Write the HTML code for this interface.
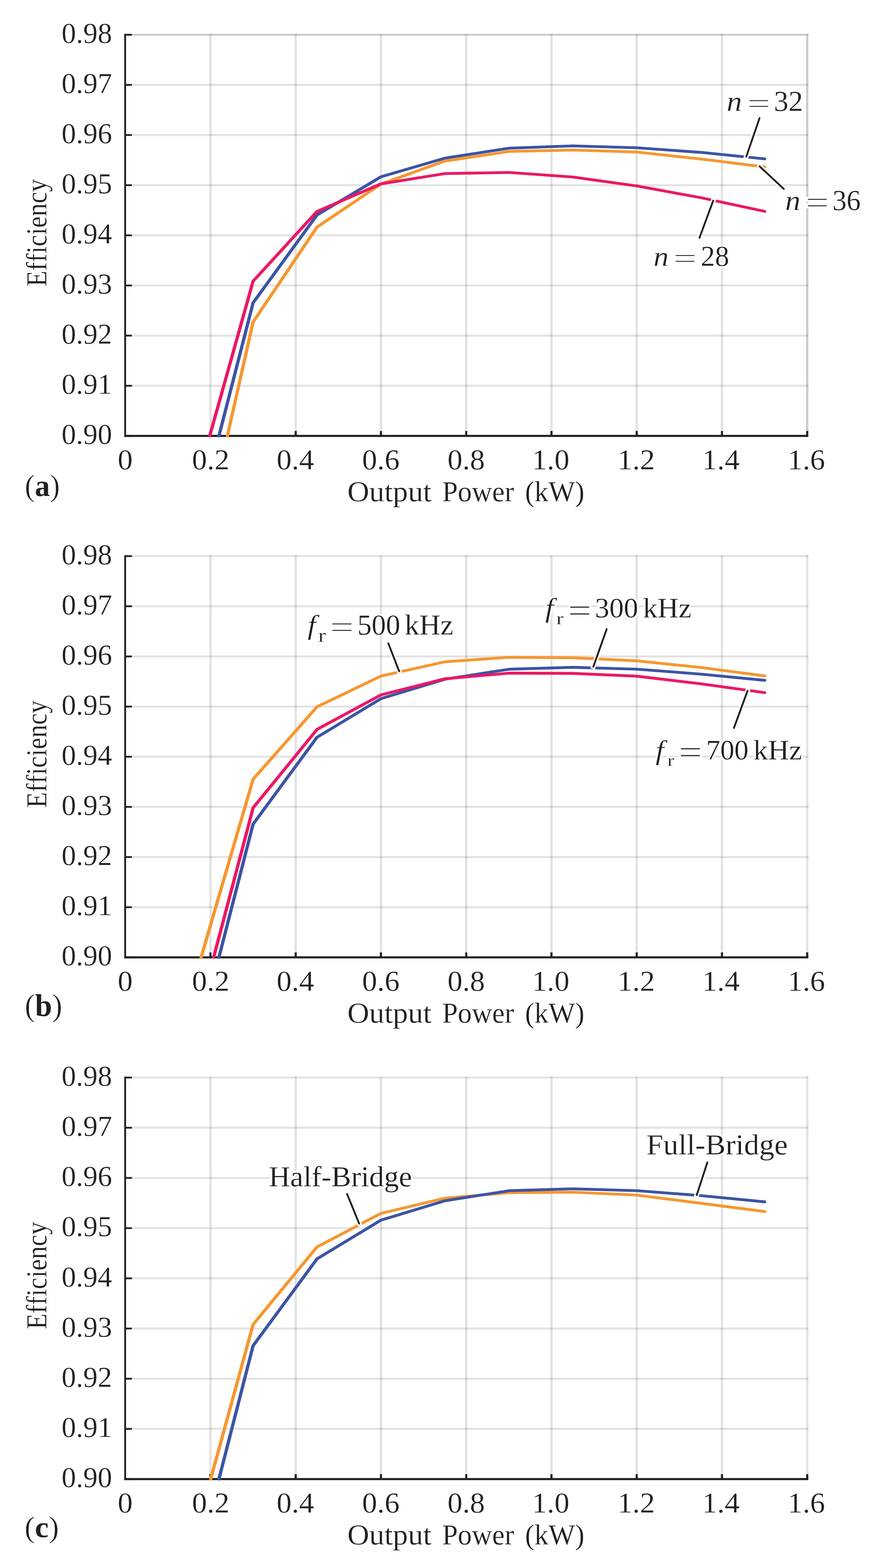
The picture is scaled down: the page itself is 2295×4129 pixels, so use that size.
<!DOCTYPE html>
<html><head><meta charset="utf-8"><title>Efficiency vs Output Power</title><style>html,body{margin:0;padding:0;background:#fff;width:2295px;height:4129px;overflow:hidden}</style></head><body>
<svg width="2295" height="4129" viewBox="0 0 2295 4129" style="display:block;font-family:'Liberation Serif',serif;font-kerning:none;font-variant-ligatures:none" fill="#231f20">
<rect width="2295" height="4129" fill="#fff"/>
<g stroke="#000" stroke-opacity="0.115" fill="none">
<line x1="347" y1="1015.85" x2="2127.54" y2="1015.85" stroke-width="5.2"/>
<line x1="347" y1="883.80" x2="2127.54" y2="883.80" stroke-width="5.2"/>
<line x1="347" y1="751.75" x2="2127.54" y2="751.75" stroke-width="5.2"/>
<line x1="347" y1="619.70" x2="2127.54" y2="619.70" stroke-width="5.2"/>
<line x1="347" y1="487.65" x2="2127.54" y2="487.65" stroke-width="5.2"/>
<line x1="347" y1="355.60" x2="2127.54" y2="355.60" stroke-width="5.2"/>
<line x1="347" y1="223.55" x2="2127.54" y2="223.55" stroke-width="5.2"/>
<line x1="347" y1="91.50" x2="2127.54" y2="91.50" stroke-width="5.2"/>
<line x1="553.88" y1="88.90" x2="553.88" y2="1134.90" stroke-width="6"/>
<line x1="778.26" y1="88.90" x2="778.26" y2="1134.90" stroke-width="6"/>
<line x1="1002.64" y1="88.90" x2="1002.64" y2="1134.90" stroke-width="6"/>
<line x1="1227.02" y1="88.90" x2="1227.02" y2="1134.90" stroke-width="6"/>
<line x1="1451.40" y1="88.90" x2="1451.40" y2="1134.90" stroke-width="6"/>
<line x1="1675.78" y1="88.90" x2="1675.78" y2="1134.90" stroke-width="6"/>
<line x1="1900.16" y1="88.90" x2="1900.16" y2="1134.90" stroke-width="6"/>
<line x1="2124.54" y1="88.90" x2="2124.54" y2="1134.90" stroke-width="6"/>
<line x1="347" y1="91.50" x2="2127.54" y2="91.50" stroke-width="5.2" stroke-opacity="0.1"/>
<line x1="2124.54" y1="94.10" x2="2124.54" y2="1134.90" stroke-width="6" stroke-opacity="0.1"/>
</g>
<g fill="#231f20">
<rect x="327" y="89.10" width="4.8" height="1061.55"/>
<rect x="327" y="1145.15" width="1800.34" height="5.5"/>
<rect x="327" y="1145.55" width="20" height="4.7"/>
<rect x="327" y="1013.50" width="20" height="4.7"/>
<rect x="327" y="881.45" width="20" height="4.7"/>
<rect x="327" y="749.40" width="20" height="4.7"/>
<rect x="327" y="617.35" width="20" height="4.7"/>
<rect x="327" y="485.30" width="20" height="4.7"/>
<rect x="327" y="353.25" width="20" height="4.7"/>
<rect x="327" y="221.20" width="20" height="4.7"/>
<rect x="327" y="89.15" width="20" height="4.7"/>
<rect x="551.08" y="1134.90" width="5.6" height="13"/>
<rect x="775.46" y="1134.90" width="5.6" height="13"/>
<rect x="999.84" y="1134.90" width="5.6" height="13"/>
<rect x="1224.22" y="1134.90" width="5.6" height="13"/>
<rect x="1448.60" y="1134.90" width="5.6" height="13"/>
<rect x="1672.98" y="1134.90" width="5.6" height="13"/>
<rect x="1897.36" y="1134.90" width="5.6" height="13"/>
<rect x="2121.74" y="1134.90" width="5.6" height="13"/>
</g>
<g transform="scale(1.17,1)" fill="none" stroke-width="7.4" stroke-linecap="round" stroke-linejoin="round">
<polyline points="492.48,1147.90 569.29,797.50 713.12,566.10 856.96,465.60 1000.79,416.50 1144.62,390.30 1288.46,384.10 1432.29,389.10 1576.12,401.20 1719.96,418.40" stroke="#3b54a4"/>
<polyline points="511.45,1147.90 569.29,848.00 713.12,598.00 856.96,484.50 1000.79,424.00 1144.62,398.90 1288.46,395.10 1432.29,400.30 1576.12,418.70 1719.96,439.60" stroke="#f6972f"/>
<polyline points="471.79,1147.90 569.29,740.50 713.12,556.90 856.96,484.10 1000.79,457.10 1144.62,454.10 1288.46,466.10 1432.29,489.70 1576.12,520.50 1719.96,556.50" stroke="#eb1865"/>
</g>
<g stroke="#000" stroke-opacity="0.115" fill="none">
<line x1="347" y1="2388.93" x2="2127.54" y2="2388.93" stroke-width="5.2"/>
<line x1="347" y1="2256.86" x2="2127.54" y2="2256.86" stroke-width="5.2"/>
<line x1="347" y1="2124.79" x2="2127.54" y2="2124.79" stroke-width="5.2"/>
<line x1="347" y1="1992.72" x2="2127.54" y2="1992.72" stroke-width="5.2"/>
<line x1="347" y1="1860.66" x2="2127.54" y2="1860.66" stroke-width="5.2"/>
<line x1="347" y1="1728.59" x2="2127.54" y2="1728.59" stroke-width="5.2"/>
<line x1="347" y1="1596.52" x2="2127.54" y2="1596.52" stroke-width="5.2"/>
<line x1="347" y1="1464.45" x2="2127.54" y2="1464.45" stroke-width="5.2"/>
<line x1="553.88" y1="1461.85" x2="553.88" y2="2508.00" stroke-width="6"/>
<line x1="778.26" y1="1461.85" x2="778.26" y2="2508.00" stroke-width="6"/>
<line x1="1002.64" y1="1461.85" x2="1002.64" y2="2508.00" stroke-width="6"/>
<line x1="1227.02" y1="1461.85" x2="1227.02" y2="2508.00" stroke-width="6"/>
<line x1="1451.40" y1="1461.85" x2="1451.40" y2="2508.00" stroke-width="6"/>
<line x1="1675.78" y1="1461.85" x2="1675.78" y2="2508.00" stroke-width="6"/>
<line x1="1900.16" y1="1461.85" x2="1900.16" y2="2508.00" stroke-width="6"/>
<line x1="2124.54" y1="1461.85" x2="2124.54" y2="2508.00" stroke-width="6"/>
</g>
<g fill="#231f20">
<rect x="327" y="1462.05" width="4.8" height="1061.70"/>
<rect x="327" y="2518.25" width="1800.34" height="5.5"/>
<rect x="327" y="2518.65" width="20" height="4.7"/>
<rect x="327" y="2386.58" width="20" height="4.7"/>
<rect x="327" y="2254.51" width="20" height="4.7"/>
<rect x="327" y="2122.44" width="20" height="4.7"/>
<rect x="327" y="1990.37" width="20" height="4.7"/>
<rect x="327" y="1858.31" width="20" height="4.7"/>
<rect x="327" y="1726.24" width="20" height="4.7"/>
<rect x="327" y="1594.17" width="20" height="4.7"/>
<rect x="327" y="1462.10" width="20" height="4.7"/>
<rect x="551.08" y="2508.00" width="5.6" height="13"/>
<rect x="775.46" y="2508.00" width="5.6" height="13"/>
<rect x="999.84" y="2508.00" width="5.6" height="13"/>
<rect x="1224.22" y="2508.00" width="5.6" height="13"/>
<rect x="1448.60" y="2508.00" width="5.6" height="13"/>
<rect x="1672.98" y="2508.00" width="5.6" height="13"/>
<rect x="1897.36" y="2508.00" width="5.6" height="13"/>
<rect x="2121.74" y="2508.00" width="5.6" height="13"/>
</g>
<g transform="scale(1.17,1)" fill="none" stroke-width="7.4" stroke-linecap="round" stroke-linejoin="round">
<polyline points="452.39,2521.00 569.29,2052.02 713.12,1861.32 856.96,1780.36 1000.79,1742.72 1144.62,1730.83 1288.46,1732.02 1432.29,1740.21 1576.12,1757.64 1719.96,1779.83" stroke="#f6972f"/>
<polyline points="492.48,2521.00 569.29,2170.23 713.12,1941.48 856.96,1839.66 1000.79,1788.68 1144.62,1762.27 1288.46,1757.25 1432.29,1762.13 1576.12,1775.08 1719.96,1791.45" stroke="#3b54a4"/>
<polyline points="480.60,2521.00 569.29,2127.44 713.12,1920.75 856.96,1829.88 1000.79,1787.36 1144.62,1772.57 1288.46,1773.23 1432.29,1780.49 1576.12,1800.56 1719.96,1823.94" stroke="#eb1865"/>
</g>
<g stroke="#000" stroke-opacity="0.115" fill="none">
<line x1="347" y1="3762.72" x2="2127.54" y2="3762.72" stroke-width="5.2"/>
<line x1="347" y1="3630.55" x2="2127.54" y2="3630.55" stroke-width="5.2"/>
<line x1="347" y1="3498.37" x2="2127.54" y2="3498.37" stroke-width="5.2"/>
<line x1="347" y1="3366.20" x2="2127.54" y2="3366.20" stroke-width="5.2"/>
<line x1="347" y1="3234.02" x2="2127.54" y2="3234.02" stroke-width="5.2"/>
<line x1="347" y1="3101.85" x2="2127.54" y2="3101.85" stroke-width="5.2"/>
<line x1="347" y1="2969.68" x2="2127.54" y2="2969.68" stroke-width="5.2"/>
<line x1="347" y1="2837.50" x2="2127.54" y2="2837.50" stroke-width="5.2"/>
<line x1="553.88" y1="2834.90" x2="553.88" y2="3881.90" stroke-width="6"/>
<line x1="778.26" y1="2834.90" x2="778.26" y2="3881.90" stroke-width="6"/>
<line x1="1002.64" y1="2834.90" x2="1002.64" y2="3881.90" stroke-width="6"/>
<line x1="1227.02" y1="2834.90" x2="1227.02" y2="3881.90" stroke-width="6"/>
<line x1="1451.40" y1="2834.90" x2="1451.40" y2="3881.90" stroke-width="6"/>
<line x1="1675.78" y1="2834.90" x2="1675.78" y2="3881.90" stroke-width="6"/>
<line x1="1900.16" y1="2834.90" x2="1900.16" y2="3881.90" stroke-width="6"/>
<line x1="2124.54" y1="2834.90" x2="2124.54" y2="3881.90" stroke-width="6"/>
</g>
<g fill="#231f20">
<rect x="327" y="2835.10" width="4.8" height="1062.55"/>
<rect x="327" y="3892.15" width="1800.34" height="5.5"/>
<rect x="327" y="3892.55" width="20" height="4.7"/>
<rect x="327" y="3760.37" width="20" height="4.7"/>
<rect x="327" y="3628.20" width="20" height="4.7"/>
<rect x="327" y="3496.02" width="20" height="4.7"/>
<rect x="327" y="3363.85" width="20" height="4.7"/>
<rect x="327" y="3231.67" width="20" height="4.7"/>
<rect x="327" y="3099.50" width="20" height="4.7"/>
<rect x="327" y="2967.33" width="20" height="4.7"/>
<rect x="327" y="2835.15" width="20" height="4.7"/>
<rect x="551.08" y="3881.90" width="5.6" height="13"/>
<rect x="775.46" y="3881.90" width="5.6" height="13"/>
<rect x="999.84" y="3881.90" width="5.6" height="13"/>
<rect x="1224.22" y="3881.90" width="5.6" height="13"/>
<rect x="1448.60" y="3881.90" width="5.6" height="13"/>
<rect x="1672.98" y="3881.90" width="5.6" height="13"/>
<rect x="1897.36" y="3881.90" width="5.6" height="13"/>
<rect x="2121.74" y="3881.90" width="5.6" height="13"/>
</g>
<g transform="scale(1.17,1)" fill="none" stroke-width="7.4" stroke-linecap="round" stroke-linejoin="round">
<polyline points="473.93,3894.90 569.29,3487.80 713.12,3283.59 856.96,3195.17 1000.79,3155.12 1144.62,3140.71 1288.46,3139.39 1432.29,3147.05 1576.12,3168.47 1719.96,3190.28" stroke="#f6972f"/>
<polyline points="492.48,3894.90 569.29,3543.84 713.12,3314.92 856.96,3213.01 1000.79,3161.99 1144.62,3135.55 1288.46,3130.53 1432.29,3135.42 1576.12,3148.38 1719.96,3164.77" stroke="#3b54a4"/>
</g>
<g fill="none">
<line x1="2000.25" y1="307.51" x2="1962.17" y2="418.13" stroke="#fff" stroke-width="12.4"/>
<line x1="1998.95" y1="311.29" x2="1964.13" y2="412.45" stroke="#231f20" stroke-width="4.8" stroke-linecap="round"/>
<line x1="2065.66" y1="500.06" x2="1994.74" y2="433.99" stroke="#fff" stroke-width="12.4"/>
<line x1="2062.74" y1="497.34" x2="1999.13" y2="438.08" stroke="#231f20" stroke-width="4.8" stroke-linecap="round"/>
<line x1="1839.61" y1="629.88" x2="1879.23" y2="522.71" stroke="#fff" stroke-width="12.4"/>
<line x1="1840.99" y1="626.12" x2="1877.15" y2="528.34" stroke="#231f20" stroke-width="4.8" stroke-linecap="round"/>
<line x1="1020.68" y1="1690.64" x2="1052.71" y2="1773.26" stroke="#fff" stroke-width="12.4"/>
<line x1="1022.12" y1="1694.36" x2="1050.54" y2="1767.67" stroke="#231f20" stroke-width="4.8" stroke-linecap="round"/>
<line x1="1598.07" y1="1652.81" x2="1559.53" y2="1761.51" stroke="#fff" stroke-width="12.4"/>
<line x1="1596.73" y1="1656.59" x2="1561.53" y2="1755.86" stroke="#231f20" stroke-width="4.8" stroke-linecap="round"/>
<line x1="1930.31" y1="1920.68" x2="1969.52" y2="1813.50" stroke="#fff" stroke-width="12.4"/>
<line x1="1931.69" y1="1916.92" x2="1967.46" y2="1819.14" stroke="#231f20" stroke-width="4.8" stroke-linecap="round"/>
<line x1="911.84" y1="3140.25" x2="947.49" y2="3227.53" stroke="#fff" stroke-width="12.4"/>
<line x1="913.36" y1="3143.95" x2="945.22" y2="3221.97" stroke="#231f20" stroke-width="4.8" stroke-linecap="round"/>
<line x1="1862.92" y1="3057.10" x2="1831.85" y2="3152.66" stroke="#fff" stroke-width="12.4"/>
<line x1="1861.68" y1="3060.90" x2="1833.71" y2="3146.95" stroke="#231f20" stroke-width="4.8" stroke-linecap="round"/>
</g>
<text transform="translate(161.90,112.93) scale(1.0097,1)" font-size="75.38" stroke="#fff" stroke-width="0.4">0.98</text>
<text transform="translate(161.90,244.98) scale(1.0097,1)" font-size="75.38" stroke="#fff" stroke-width="0.4">0.97</text>
<text transform="translate(161.90,377.03) scale(1.0097,1)" font-size="75.38" stroke="#fff" stroke-width="0.4">0.96</text>
<text transform="translate(161.90,509.08) scale(1.0097,1)" font-size="75.38" stroke="#fff" stroke-width="0.4">0.95</text>
<text transform="translate(161.90,641.13) scale(1.0097,1)" font-size="75.38" stroke="#fff" stroke-width="0.4">0.94</text>
<text transform="translate(161.90,773.18) scale(1.0097,1)" font-size="75.38" stroke="#fff" stroke-width="0.4">0.93</text>
<text transform="translate(161.90,905.23) scale(1.0097,1)" font-size="75.38" stroke="#fff" stroke-width="0.4">0.92</text>
<text transform="translate(161.90,1037.28) scale(1.0097,1)" font-size="75.38" stroke="#fff" stroke-width="0.4">0.91</text>
<text transform="translate(161.90,1169.33) scale(1.0097,1)" font-size="75.38" stroke="#fff" stroke-width="0.4">0.90</text>
<text transform="translate(309.79,1236.13) scale(1.0439,1)" font-size="75.53" stroke="#fff" stroke-width="0.4">0</text>
<text transform="translate(505.28,1236.13) scale(1.0439,1)" font-size="75.53" stroke="#fff" stroke-width="0.4">0.2</text>
<text transform="translate(728.10,1236.13) scale(1.0439,1)" font-size="75.53" stroke="#fff" stroke-width="0.4">0.4</text>
<text transform="translate(953.04,1236.13) scale(1.0439,1)" font-size="75.53" stroke="#fff" stroke-width="0.4">0.6</text>
<text transform="translate(1177.74,1236.13) scale(1.0439,1)" font-size="75.53" stroke="#fff" stroke-width="0.4">0.8</text>
<text transform="translate(1400.16,1236.13) scale(1.0439,1)" font-size="75.53" stroke="#fff" stroke-width="0.4">1.0</text>
<text transform="translate(1625.21,1236.13) scale(1.0439,1)" font-size="75.53" stroke="#fff" stroke-width="0.4">1.2</text>
<text transform="translate(1848.03,1236.13) scale(1.0439,1)" font-size="75.53" stroke="#fff" stroke-width="0.4">1.4</text>
<text transform="translate(2072.97,1236.13) scale(1.0439,1)" font-size="75.53" stroke="#fff" stroke-width="0.4">1.6</text>
<text transform="translate(122.00,754.36) rotate(-90) scale(0.8999,1)" font-size="75.50" stroke="#fff" stroke-width="0.4">Efficiency</text>
<text transform="translate(914.33,1320.30) scale(1.0554,1)" font-size="75.50" stroke="#fff" stroke-width="0.4">Output</text>
<text transform="translate(1163.67,1320.30) scale(0.9807,1)" font-size="75.50" stroke="#fff" stroke-width="0.4">Power</text>
<text transform="translate(1381.74,1320.30) scale(0.9826,1)" font-size="75.50" stroke="#fff" stroke-width="0.4">(kW)</text>
<text transform="translate(161.90,1485.88) scale(1.0097,1)" font-size="75.38" stroke="#fff" stroke-width="0.4">0.98</text>
<text transform="translate(161.90,1617.95) scale(1.0097,1)" font-size="75.38" stroke="#fff" stroke-width="0.4">0.97</text>
<text transform="translate(161.90,1750.02) scale(1.0097,1)" font-size="75.38" stroke="#fff" stroke-width="0.4">0.96</text>
<text transform="translate(161.90,1882.09) scale(1.0097,1)" font-size="75.38" stroke="#fff" stroke-width="0.4">0.95</text>
<text transform="translate(161.90,2014.16) scale(1.0097,1)" font-size="75.38" stroke="#fff" stroke-width="0.4">0.94</text>
<text transform="translate(161.90,2146.23) scale(1.0097,1)" font-size="75.38" stroke="#fff" stroke-width="0.4">0.93</text>
<text transform="translate(161.90,2278.30) scale(1.0097,1)" font-size="75.38" stroke="#fff" stroke-width="0.4">0.92</text>
<text transform="translate(161.90,2410.36) scale(1.0097,1)" font-size="75.38" stroke="#fff" stroke-width="0.4">0.91</text>
<text transform="translate(161.90,2542.43) scale(1.0097,1)" font-size="75.38" stroke="#fff" stroke-width="0.4">0.90</text>
<text transform="translate(309.79,2609.23) scale(1.0439,1)" font-size="75.53" stroke="#fff" stroke-width="0.4">0</text>
<text transform="translate(505.28,2609.23) scale(1.0439,1)" font-size="75.53" stroke="#fff" stroke-width="0.4">0.2</text>
<text transform="translate(728.10,2609.23) scale(1.0439,1)" font-size="75.53" stroke="#fff" stroke-width="0.4">0.4</text>
<text transform="translate(953.04,2609.23) scale(1.0439,1)" font-size="75.53" stroke="#fff" stroke-width="0.4">0.6</text>
<text transform="translate(1177.74,2609.23) scale(1.0439,1)" font-size="75.53" stroke="#fff" stroke-width="0.4">0.8</text>
<text transform="translate(1400.16,2609.23) scale(1.0439,1)" font-size="75.53" stroke="#fff" stroke-width="0.4">1.0</text>
<text transform="translate(1625.21,2609.23) scale(1.0439,1)" font-size="75.53" stroke="#fff" stroke-width="0.4">1.2</text>
<text transform="translate(1848.03,2609.23) scale(1.0439,1)" font-size="75.53" stroke="#fff" stroke-width="0.4">1.4</text>
<text transform="translate(2072.97,2609.23) scale(1.0439,1)" font-size="75.53" stroke="#fff" stroke-width="0.4">1.6</text>
<text transform="translate(122.00,2127.31) rotate(-90) scale(0.8999,1)" font-size="75.50" stroke="#fff" stroke-width="0.4">Efficiency</text>
<text transform="translate(914.33,2693.40) scale(1.0554,1)" font-size="75.50" stroke="#fff" stroke-width="0.4">Output</text>
<text transform="translate(1163.67,2693.40) scale(0.9807,1)" font-size="75.50" stroke="#fff" stroke-width="0.4">Power</text>
<text transform="translate(1381.74,2693.40) scale(0.9826,1)" font-size="75.50" stroke="#fff" stroke-width="0.4">(kW)</text>
<text transform="translate(161.90,2858.93) scale(1.0097,1)" font-size="75.38" stroke="#fff" stroke-width="0.4">0.98</text>
<text transform="translate(161.90,2991.11) scale(1.0097,1)" font-size="75.38" stroke="#fff" stroke-width="0.4">0.97</text>
<text transform="translate(161.90,3123.28) scale(1.0097,1)" font-size="75.38" stroke="#fff" stroke-width="0.4">0.96</text>
<text transform="translate(161.90,3255.46) scale(1.0097,1)" font-size="75.38" stroke="#fff" stroke-width="0.4">0.95</text>
<text transform="translate(161.90,3387.63) scale(1.0097,1)" font-size="75.38" stroke="#fff" stroke-width="0.4">0.94</text>
<text transform="translate(161.90,3519.81) scale(1.0097,1)" font-size="75.38" stroke="#fff" stroke-width="0.4">0.93</text>
<text transform="translate(161.90,3651.98) scale(1.0097,1)" font-size="75.38" stroke="#fff" stroke-width="0.4">0.92</text>
<text transform="translate(161.90,3784.16) scale(1.0097,1)" font-size="75.38" stroke="#fff" stroke-width="0.4">0.91</text>
<text transform="translate(161.90,3916.33) scale(1.0097,1)" font-size="75.38" stroke="#fff" stroke-width="0.4">0.90</text>
<text transform="translate(309.79,3983.13) scale(1.0439,1)" font-size="75.53" stroke="#fff" stroke-width="0.4">0</text>
<text transform="translate(505.28,3983.13) scale(1.0439,1)" font-size="75.53" stroke="#fff" stroke-width="0.4">0.2</text>
<text transform="translate(728.10,3983.13) scale(1.0439,1)" font-size="75.53" stroke="#fff" stroke-width="0.4">0.4</text>
<text transform="translate(953.04,3983.13) scale(1.0439,1)" font-size="75.53" stroke="#fff" stroke-width="0.4">0.6</text>
<text transform="translate(1177.74,3983.13) scale(1.0439,1)" font-size="75.53" stroke="#fff" stroke-width="0.4">0.8</text>
<text transform="translate(1400.16,3983.13) scale(1.0439,1)" font-size="75.53" stroke="#fff" stroke-width="0.4">1.0</text>
<text transform="translate(1625.21,3983.13) scale(1.0439,1)" font-size="75.53" stroke="#fff" stroke-width="0.4">1.2</text>
<text transform="translate(1848.03,3983.13) scale(1.0439,1)" font-size="75.53" stroke="#fff" stroke-width="0.4">1.4</text>
<text transform="translate(2072.97,3983.13) scale(1.0439,1)" font-size="75.53" stroke="#fff" stroke-width="0.4">1.6</text>
<text transform="translate(122.00,3500.36) rotate(-90) scale(0.8999,1)" font-size="75.50" stroke="#fff" stroke-width="0.4">Efficiency</text>
<text transform="translate(914.33,4067.30) scale(1.0554,1)" font-size="75.50" stroke="#fff" stroke-width="0.4">Output</text>
<text transform="translate(1163.67,4067.30) scale(0.9807,1)" font-size="75.50" stroke="#fff" stroke-width="0.4">Power</text>
<text transform="translate(1381.74,4067.30) scale(0.9826,1)" font-size="75.50" stroke="#fff" stroke-width="0.4">(kW)</text>
<text transform="translate(65.21,1306.02) scale(0.9950,1)" font-size="79.71" stroke="#fff" stroke-width="0.8">(<tspan font-weight="bold" stroke="none">a</tspan>)</text>
<text transform="translate(65.36,2674.79) scale(0.9735,1)" font-size="82.69" stroke="#fff" stroke-width="0.8">(<tspan font-weight="bold" stroke="none">b</tspan>)</text>
<text transform="translate(64.60,4047.66) scale(1.0395,1)" font-size="78.61" stroke="#fff" stroke-width="0.8">(<tspan font-weight="bold" stroke="none">c</tspan>)</text>
<g>
<text transform="translate(1912.50,291.80) scale(1.1000,1)" font-size="73.22" font-style="italic" fill="none" stroke="#fff" stroke-width="9" aria-hidden="true">n</text>
<text transform="translate(1965.92,297.39) scale(1.4710,1)" font-size="74.80" fill="none" stroke="#fff" stroke-width="9" aria-hidden="true">=</text>
<text transform="translate(2036.73,291.75) scale(0.9968,1)" font-size="76.95" fill="none" stroke="#fff" stroke-width="9" aria-hidden="true">32</text>
<text transform="translate(2066.46,553.40) scale(1.1000,1)" font-size="73.01" font-style="italic" fill="none" stroke="#fff" stroke-width="9" aria-hidden="true">n</text>
<text transform="translate(2119.68,561.26) scale(1.3457,1)" font-size="82.40" fill="none" stroke="#fff" stroke-width="9" aria-hidden="true">=</text>
<text transform="translate(2190.95,553.46) scale(0.9765,1)" font-size="76.06" fill="none" stroke="#fff" stroke-width="9" aria-hidden="true">36</text>
<text transform="translate(1719.98,699.70) scale(1.1000,1)" font-size="72.37" font-style="italic" fill="none" stroke="#fff" stroke-width="9" aria-hidden="true">n</text>
<text transform="translate(1771.46,706.00) scale(1.4495,1)" font-size="76.80" fill="none" stroke="#fff" stroke-width="9" aria-hidden="true">=</text>
<text transform="translate(1844.52,699.75) scale(0.9754,1)" font-size="76.61" fill="none" stroke="#fff" stroke-width="9" aria-hidden="true">28</text>
<text transform="translate(809.45,1670.08) scale(1.1000,1)" font-size="72.41" font-style="italic" fill="none" stroke="#fff" stroke-width="9" aria-hidden="true">f</text>
<text transform="translate(837.32,1689.60) scale(1.2500,1)" font-size="49.66" fill="none" stroke="#fff" stroke-width="9" aria-hidden="true">r</text>
<text transform="translate(867.88,1679.39) scale(1.3826,1)" font-size="81.60" fill="none" stroke="#fff" stroke-width="9" aria-hidden="true">=</text>
<text transform="translate(940.42,1671.26) scale(0.9904,1)" font-size="76.02" fill="none" stroke="#fff" stroke-width="9" aria-hidden="true">500</text>
<text transform="translate(1064.93,1671.30) scale(1.0245,1)" font-size="75.23" fill="none" stroke="#fff" stroke-width="9" aria-hidden="true">kHz</text>
<text transform="translate(1434.95,1625.38) scale(1.1000,1)" font-size="72.41" font-style="italic" fill="none" stroke="#fff" stroke-width="9" aria-hidden="true">f</text>
<text transform="translate(1463.90,1643.90) scale(1.2500,1)" font-size="46.27" fill="none" stroke="#fff" stroke-width="9" aria-hidden="true">r</text>
<text transform="translate(1494.26,1637.17) scale(1.2480,1)" font-size="89.20" fill="none" stroke="#fff" stroke-width="9" aria-hidden="true">=</text>
<text transform="translate(1565.87,1625.67) scale(1.0130,1)" font-size="74.84" fill="none" stroke="#fff" stroke-width="9" aria-hidden="true">300</text>
<text transform="translate(1692.14,1625.70) scale(1.0350,1)" font-size="73.94" fill="none" stroke="#fff" stroke-width="9" aria-hidden="true">kHz</text>
<text transform="translate(1725.55,2000.08) scale(1.1000,1)" font-size="72.41" font-style="italic" fill="none" stroke="#fff" stroke-width="9" aria-hidden="true">f</text>
<text transform="translate(1756.20,2017.00) scale(1.2500,1)" font-size="44.14" fill="none" stroke="#fff" stroke-width="9" aria-hidden="true">r</text>
<text transform="translate(1785.46,2010.27) scale(1.2480,1)" font-size="89.20" fill="none" stroke="#fff" stroke-width="9" aria-hidden="true">=</text>
<text transform="translate(1858.28,1999.78) scale(1.0084,1)" font-size="73.95" fill="none" stroke="#fff" stroke-width="9" aria-hidden="true">700</text>
<text transform="translate(1982.74,1999.80) scale(1.0523,1)" font-size="73.07" fill="none" stroke="#fff" stroke-width="9" aria-hidden="true">kHz</text>
<text transform="translate(707.45,3124.10) scale(1.0201,1)" font-size="76.50" fill="none" stroke="#fff" stroke-width="9" aria-hidden="true">Half-Bridge</text>
<text transform="translate(1701.20,3039.90) scale(1.0425,1)" font-size="76.50" fill="none" stroke="#fff" stroke-width="9" aria-hidden="true">Full-Bridge</text>
</g>
<text transform="translate(1912.50,291.80) scale(1.1000,1)" font-size="73.22" font-style="italic" stroke="#fff" stroke-width="0.4">n</text>
<text transform="translate(1965.92,297.39) scale(1.4710,1)" font-size="74.80" stroke="#fff" stroke-width="1.6">=</text>
<text transform="translate(2036.73,291.75) scale(0.9968,1)" font-size="76.95" stroke="#fff" stroke-width="0.4">32</text>
<text transform="translate(2066.46,553.40) scale(1.1000,1)" font-size="73.01" font-style="italic" stroke="#fff" stroke-width="0.4">n</text>
<text transform="translate(2119.68,561.26) scale(1.3457,1)" font-size="82.40" stroke="#fff" stroke-width="1.6">=</text>
<text transform="translate(2190.95,553.46) scale(0.9765,1)" font-size="76.06" stroke="#fff" stroke-width="0.4">36</text>
<text transform="translate(1719.98,699.70) scale(1.1000,1)" font-size="72.37" font-style="italic" stroke="#fff" stroke-width="0.4">n</text>
<text transform="translate(1771.46,706.00) scale(1.4495,1)" font-size="76.80" stroke="#fff" stroke-width="1.6">=</text>
<text transform="translate(1844.52,699.75) scale(0.9754,1)" font-size="76.61" stroke="#fff" stroke-width="0.4">28</text>
<text transform="translate(809.45,1670.08) scale(1.1000,1)" font-size="72.41" font-style="italic" stroke="#fff" stroke-width="0.4">f</text>
<text transform="translate(837.32,1689.60) scale(1.2500,1)" font-size="49.66" stroke="#fff" stroke-width="0.4">r</text>
<text transform="translate(867.88,1679.39) scale(1.3826,1)" font-size="81.60" stroke="#fff" stroke-width="1.6">=</text>
<text transform="translate(940.42,1671.26) scale(0.9904,1)" font-size="76.02" stroke="#fff" stroke-width="0.4">500</text>
<text transform="translate(1064.93,1671.30) scale(1.0245,1)" font-size="75.23" stroke="#fff" stroke-width="0.4">kHz</text>
<text transform="translate(1434.95,1625.38) scale(1.1000,1)" font-size="72.41" font-style="italic" stroke="#fff" stroke-width="0.4">f</text>
<text transform="translate(1463.90,1643.90) scale(1.2500,1)" font-size="46.27" stroke="#fff" stroke-width="0.4">r</text>
<text transform="translate(1494.26,1637.17) scale(1.2480,1)" font-size="89.20" stroke="#fff" stroke-width="1.6">=</text>
<text transform="translate(1565.87,1625.67) scale(1.0130,1)" font-size="74.84" stroke="#fff" stroke-width="0.4">300</text>
<text transform="translate(1692.14,1625.70) scale(1.0350,1)" font-size="73.94" stroke="#fff" stroke-width="0.4">kHz</text>
<text transform="translate(1725.55,2000.08) scale(1.1000,1)" font-size="72.41" font-style="italic" stroke="#fff" stroke-width="0.4">f</text>
<text transform="translate(1756.20,2017.00) scale(1.2500,1)" font-size="44.14" stroke="#fff" stroke-width="0.4">r</text>
<text transform="translate(1785.46,2010.27) scale(1.2480,1)" font-size="89.20" stroke="#fff" stroke-width="1.6">=</text>
<text transform="translate(1858.28,1999.78) scale(1.0084,1)" font-size="73.95" stroke="#fff" stroke-width="0.4">700</text>
<text transform="translate(1982.74,1999.80) scale(1.0523,1)" font-size="73.07" stroke="#fff" stroke-width="0.4">kHz</text>
<text transform="translate(707.45,3124.10) scale(1.0201,1)" font-size="76.50" stroke="#fff" stroke-width="0.4">Half-Bridge</text>
<text transform="translate(1701.20,3039.90) scale(1.0425,1)" font-size="76.50" stroke="#fff" stroke-width="0.4">Full-Bridge</text>
</svg>
</body></html>
